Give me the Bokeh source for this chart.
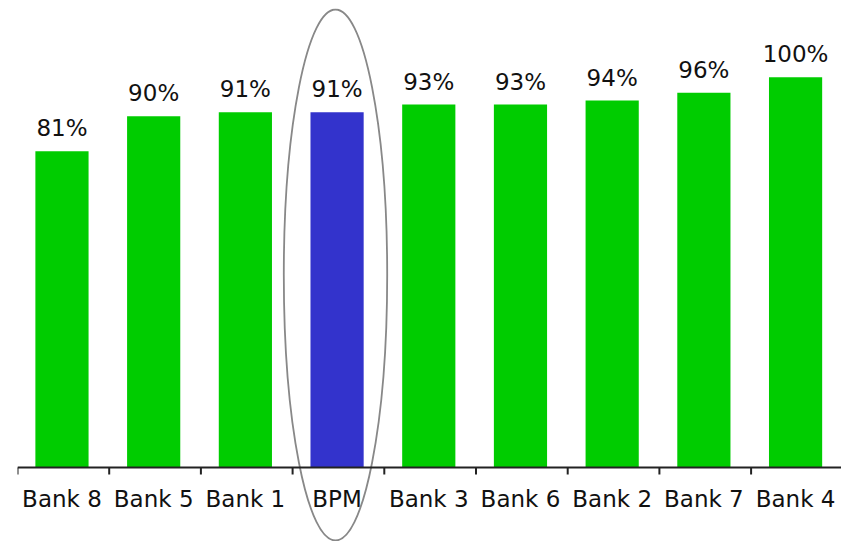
from bokeh.plotting import figure
from bokeh.models import Range1d, Span, ColumnDataSource
from bokeh.core.properties import value
from bokeh.embed import file_html
from bokeh.resources import INLINE

categories = ["Bank 8", "Bank 5", "Bank 1", "BPM", "Bank 3", "Bank 6", "Bank 2", "Bank 7", "Bank 4"]
values = [81, 90, 91, 91, 93, 93, 94, 96, 100]
labels = ["81%", "90%", "91%", "91%", "93%", "93%", "94%", "96%", "100%"]
highlight = "BPM"

GREEN = "#00CC00"
BLUE = "#3333CC"
FONT = value("DejaVu Sans")

px_per_unit = 3.903      # pixels per percentage point
cat_px = 91.7            # pixels per category
frame_w = 824
frame_h = 533
zero_from_top = 459      # baseline position from top of frame

y_top = zero_from_top / px_per_unit
y_bot = -(frame_h - zero_from_top) / px_per_unit

p = figure(width=841, height=541, output_backend="svg", toolbar_location=None,
           x_range=Range1d(0, frame_w / cat_px), y_range=Range1d(y_bot, y_top),
           x_axis_type=None, y_axis_type=None,
           min_border_left=17, min_border_right=0, min_border_top=8, min_border_bottom=0)
p.grid.visible = False
p.outline_line_color = None
p.background_fill_color = "white"

xs = [i + 0.485 for i in range(len(categories))]
colors = [BLUE if c == highlight else GREEN for c in categories]
src = ColumnDataSource(dict(x=xs, top=values, color=colors, label=labels, cat=categories,
                            ly=[v + 23 / px_per_unit for v in values]))

p.vbar(x="x", top="top", bottom=0, width=0.58, fill_color="color", line_color=None, source=src)

p.text(x="x", y="ly", text="label", source=src, text_align="center", text_baseline="alphabetic",
       text_font=FONT, text_font_size="23px", text_color="#111111")

# baseline axis
p.add_layout(Span(location=0, dimension="width", line_color="#222222", line_width=2))
ticks = list(range(len(categories)))
p.segment(x0=ticks, x1=ticks, y0=[0] * len(ticks), y1=[-7 / px_per_unit] * len(ticks),
          line_color="#222222", line_width=2)
p.text(x=xs, y=[-31 / px_per_unit] * len(xs), text=categories, text_align="center",
       text_baseline="alphabetic", text_font=FONT, text_font_size="23px", text_color="#111111")

# ellipse around highlighted bar
p.ellipse(x=[(335 - 17) / cat_px], y=[(467 - 274.5) / px_per_unit],
          width=[103.4 / cat_px], height=[531 / px_per_unit],
          fill_color=None, line_color="#888888", line_width=1.8)

open("out.html", "w").write(file_html(p, INLINE))
